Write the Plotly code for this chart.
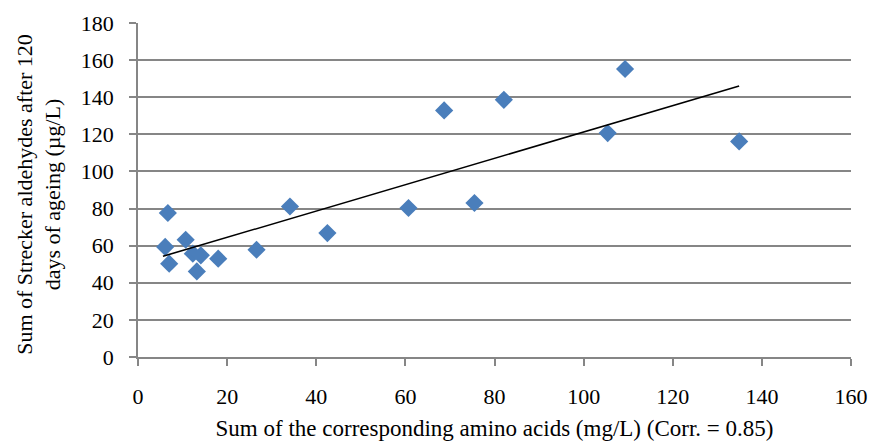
import numpy as np
import plotly.graph_objects as go

# sum of amino acids (mg/L) vs sum of Strecker aldehydes (ug/L)
amino = [6.7, 6.1, 7.0, 10.7, 12.3, 13.2, 14.1, 18.0, 26.6, 34.1, 42.5,
         60.7, 68.7, 75.5, 82.1, 105.4, 109.3, 134.9]
aldehydes = [77.6, 59.3, 50.3, 63.2, 55.7, 46.1, 54.8, 53.0, 57.8, 81.1, 66.8,
             80.3, 132.9, 83.0, 138.6, 120.7, 155.2, 116.2]

# linear trendline (as in the Excel chart)
slope, icpt = np.polyfit(amino, aldehydes, 1)
tx = [5.6, max(amino)]
ty = [slope * v + icpt for v in tx]

serif = "Liberation Serif, Times New Roman, serif"
gray = "#868686"

fig = go.Figure()
fig.add_trace(go.Scatter(
    x=amino, y=aldehydes, mode="markers",
    marker=dict(symbol="diamond", size=14, color="#4A7EBB"),
    showlegend=False))
fig.add_trace(go.Scatter(
    x=tx, y=ty, mode="lines",
    line=dict(color="#000000", width=1.5),
    showlegend=False))

fig.update_layout(
    width=870, height=441,
    margin=dict(l=138, r=19, t=23, b=84),
    paper_bgcolor="white", plot_bgcolor="white",
    font=dict(family=serif, size=22, color="#000000"),
    xaxis=dict(range=[0, 160], dtick=20, showgrid=False, zeroline=False,
               automargin=False,
               showline=True, linecolor=gray, linewidth=1.5,
               ticks="outside", tickcolor=gray, ticklen=7, tickwidth=1.5,
               ticklabelstandoff=12,
               tickfont=dict(family=serif, size=22, color="#000000"),
               title=dict(text="Sum of the corresponding amino acids (mg/L) (Corr. = 0.85)",
                          font=dict(family=serif, size=23), standoff=12)),
    yaxis=dict(range=[0, 180], dtick=20, showgrid=True, gridcolor=gray, gridwidth=1.5,
               zeroline=False, automargin=False,
               showline=True, linecolor=gray, linewidth=1.5,
               ticks="outside", tickcolor=gray, ticklen=7, tickwidth=1.5,
               ticklabelstandoff=11,
               tickfont=dict(family=serif, size=22, color="#000000")),
)

# y title as a rotated annotation so it can sit close to the tick labels
fig.add_annotation(
    text="Sum of Strecker aldehydes after 120<br>days of ageing (µg/L)",
    xref="paper", yref="paper", x=-0.14, y=0.486,
    xanchor="center", yanchor="middle", textangle=-90, showarrow=False,
    font=dict(family=serif, size=22, color="#000000"))

# drop the default body margin so the chart fills the window exactly
fig.write_html("out.html", config={"displayModeBar": False},
               post_script="document.body.style.margin='0';")
